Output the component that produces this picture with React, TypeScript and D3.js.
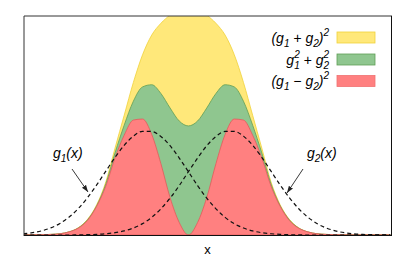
import { useEffect, useRef } from 'react';
import * as d3 from 'd3';

// sample positions along x
const xValues = [
  -4.5, -4.25, -4, -3.75, -3.5, -3.25, -3, -2.75, -2.5, -2.25, -2, -1.75, -1.5, -1.25, -1, -0.75, -0.5, -0.25,
  0, 0.25, 0.5, 0.75, 1, 1.25, 1.5, 1.75, 2, 2.25, 2.5, 2.75, 3, 3.25, 3.5, 3.75, 4, 4.25, 4.5, 4.75, 5, 5.25, 5.5,
];

// dashed curves
const g1Values = [
  0.012, 0.022, 0.04, 0.068, 0.111, 0.172, 0.254, 0.358, 0.48, 0.612, 0.744, 0.86, 0.948, 0.994, 0.993, 0.945, 0.856, 0.738,
  0.607, 0.474, 0.353, 0.251, 0.169, 0.109, 0.067, 0.039, 0.022, 0.012, 0.006, 0.003, 0.001, 0, 0, 0, 0, 0, 0, 0, 0, 0, 0,
];
const g2Values = [
  0, 0, 0, 0, 0, 0, 0.001, 0.003, 0.006, 0.012, 0.022, 0.039, 0.067, 0.109, 0.169, 0.251, 0.353, 0.474,
  0.607, 0.738, 0.856, 0.945, 0.993, 0.994, 0.948, 0.86, 0.744, 0.612, 0.48, 0.358, 0.254, 0.172, 0.111, 0.068, 0.04, 0.022, 0.012, 0.006, 0.003, 0.001, 0.001,
];

// filled areas
const sumSqValues = [
  0, 0.001, 0.002, 0.006, 0.012, 0.03, 0.07, 0.15, 0.29, 0.51, 0.833, 1.148, 1.463, 1.728, 1.917, 2.03, 2.11, 2.18,
  2.2, 2.18, 2.11, 2.03, 1.917, 1.728, 1.463, 1.148, 0.833, 0.51, 0.29, 0.15, 0.07, 0.03, 0.012, 0.006, 0.002, 0.001, 0, 0, 0, 0, 0,
];
const sqSumValues = [
  0, 0.0007, 0.0023, 0.0055, 0.012, 0.03, 0.068, 0.145, 0.28, 0.49, 0.787, 1.053, 1.283, 1.42, 1.441, 1.357, 1.218, 1.093,
  1.046, 1.093, 1.218, 1.357, 1.441, 1.42, 1.283, 1.053, 0.787, 0.49, 0.28, 0.145, 0.068, 0.03, 0.012, 0.0055, 0.0023, 0.0007, 0, 0, 0, 0, 0,
];
const diffSqValues = [
  0, 0.0007, 0.0023, 0.0055, 0.012, 0.03, 0.066, 0.14, 0.275, 0.47, 0.74, 0.957, 1.102, 1.112, 0.964, 0.684, 0.359, 0.12,
  0, 0.12, 0.359, 0.684, 0.964, 1.112, 1.102, 0.957, 0.74, 0.47, 0.275, 0.14, 0.066, 0.03, 0.012, 0.0055, 0.0023, 0.0007, 0, 0, 0, 0, 0,
];

const width = 415;
const height = 257;
const FONT = '"Liberation Sans", Arial, sans-serif';

const Chart = () => {
  const svgRef = useRef(null);

  useEffect(() => {
    const svg = d3.select(svgRef.current);
    svg.selectAll('*').remove();

    const left = 24, right = 391, top = 16, bottom = 235;
    const x = d3.scaleLinear().domain([-4.48, 5.52]).range([left, right]);
    const y = d3.scaleLinear().domain([0, 2.1]).range([bottom, top]);

    const defs = svg.append('defs');
    defs.append('clipPath').attr('id', 'plot-clip')
      .append('rect').attr('x', left).attr('y', top).attr('width', right - left).attr('height', bottom - top);
    defs.append('marker')
      .attr('id', 'arrow')
      .attr('viewBox', '0 0 10 10')
      .attr('refX', 10).attr('refY', 5)
      .attr('markerWidth', 7).attr('markerHeight', 7)
      .attr('markerUnits', 'userSpaceOnUse')
      .attr('orient', 'auto')
      .append('path').attr('d', 'M0,1.5 L10,5 L0,8.5 Z').attr('fill', '#222');

    const plot = svg.append('g').attr('clip-path', 'url(#plot-clip)');

    const areas = [
      { values: sumSqValues, fill: '#ffe87a', stroke: '#f0d23a' },
      { values: sqSumValues, fill: '#8fc68f', stroke: '#5f9e55' },
      { values: diffSqValues, fill: '#ff8080', stroke: '#e25a5a' },
    ];
    areas.forEach(a => {
      const area = d3.area()
        .x((d, i) => x(xValues[i]))
        .y0(y(0))
        .y1(d => y(d))
        .curve(d3.curveMonotoneX);
      plot.append('path')
        .attr('d', area(a.values))
        .attr('fill', a.fill)
        .attr('stroke', a.stroke)
        .attr('stroke-width', 0.8);
    });

    const line = d3.line()
      .x((d, i) => x(xValues[i]))
      .y(d => y(d))
      .curve(d3.curveMonotoneX);
    [g1Values, g2Values].forEach(vals => {
      plot.append('path')
        .attr('d', line(vals))
        .attr('fill', 'none')
        .attr('stroke', '#111')
        .attr('stroke-width', 1.2)
        .attr('stroke-dasharray', '4,3');
    });

    // frame
    svg.append('line').attr('x1', left).attr('x2', right + 1).attr('y1', top).attr('y2', top).attr('stroke', '#333');
    svg.append('line').attr('x1', left).attr('x2', left).attr('y1', top).attr('y2', bottom + 1).attr('stroke', '#333');
    svg.append('line').attr('x1', right + 0.5).attr('x2', right + 0.5).attr('y1', top).attr('y2', bottom + 1).attr('stroke', '#111');
    svg.append('line').attr('x1', left).attr('x2', right + 1).attr('y1', bottom + 0.5).attr('y2', bottom + 0.5).attr('stroke', '#111');

    // x label
    svg.append('text')
      .attr('x', (left + right) / 2).attr('y', 254)
      .attr('text-anchor', 'middle')
      .style('font-family', FONT).style('font-size', '13px')
      .text('x');

    // legend
    const legendX = 329;
    const swatchX = 337;
    const rows = [
      { y: 32, fill: '#ffe87a', stroke: '#f0d23a' },
      { y: 54, fill: '#8fc68f', stroke: '#5f9e55' },
      { y: 75.5, fill: '#ff8080', stroke: '#f07070' },
    ];
    rows.forEach(r => {
      svg.append('rect')
        .attr('x', swatchX).attr('y', r.y).attr('width', 38).attr('height', 11)
        .attr('fill', r.fill).attr('stroke', r.stroke).attr('stroke-width', 0.8);
    });

    const mkText = (yy) => svg.append('text')
      .attr('x', legendX).attr('y', yy)
      .attr('text-anchor', 'end')
      .style('font-family', FONT).style('font-size', '14px').style('font-style', 'italic');

    // (g1 + g2)^2
    const t1 = mkText(43);
    t1.append('tspan').text('(g');
    t1.append('tspan').attr('dy', 4).style('font-size', '10px').text('1');
    t1.append('tspan').attr('dy', -4).text(' + g');
    t1.append('tspan').attr('dy', 4).style('font-size', '10px').text('2');
    t1.append('tspan').attr('dy', -4).text(')');
    t1.append('tspan').attr('dy', -7).style('font-size', '10px').text('2');

    // g1^2 + g2^2
    const t2 = mkText(64.5);
    t2.append('tspan').text('g');
    t2.append('tspan').attr('dy', 4).style('font-size', '10px').text('1');
    t2.append('tspan').attr('dx', -5.6).attr('dy', -11).style('font-size', '10px').text('2');
    t2.append('tspan').attr('dy', 7).text(' + g');
    t2.append('tspan').attr('dy', 4).style('font-size', '10px').text('2');
    t2.append('tspan').attr('dx', -5.6).attr('dy', -11).style('font-size', '10px').text('2');

    // (g1 - g2)^2
    const t3 = mkText(86);
    t3.append('tspan').text('(g');
    t3.append('tspan').attr('dy', 4).style('font-size', '10px').text('1');
    t3.append('tspan').attr('dy', -4).text(' \u2212 g');
    t3.append('tspan').attr('dy', 4).style('font-size', '10px').text('2');
    t3.append('tspan').attr('dy', -4).text(')');
    t3.append('tspan').attr('dy', -7).style('font-size', '10px').text('2');

    // annotations
    const annot = (tx, ty, sub, ax1, ay1, ax2, ay2) => {
      const t = svg.append('text')
        .attr('x', tx).attr('y', ty)
        .style('font-family', FONT).style('font-size', '14px').style('font-style', 'italic');
      t.append('tspan').text('g');
      t.append('tspan').attr('dy', 4).style('font-size', '10px').text(sub);
      t.append('tspan').attr('dy', -4).text('(x)');
      svg.append('line')
        .attr('x1', ax1).attr('y1', ay1).attr('x2', ax2).attr('y2', ay2)
        .attr('stroke', '#222').attr('stroke-width', 0.9)
        .attr('marker-end', 'url(#arrow)');
    };
    annot(53, 158, '1', 72, 169, 88, 192);
    annot(307, 158, '2', 303, 169, 287, 193);
  }, []);

  return (
    <svg ref={svgRef} width={width} height={height}
      style={{ position: 'absolute', left: 0, top: 0, background: '#fff' }} />
  );
};

export default function App() {
  return <Chart />;
}
